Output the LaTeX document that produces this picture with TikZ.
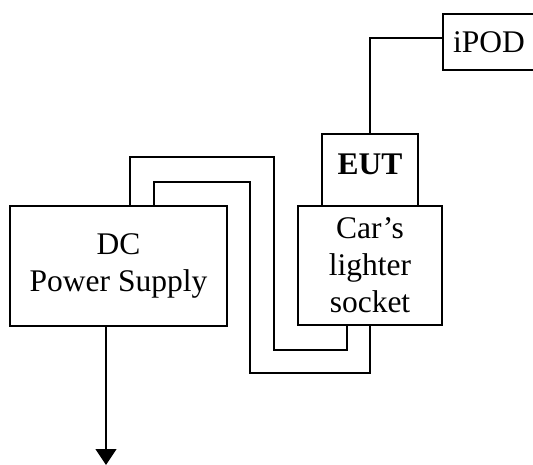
\documentclass[tikz,border=0pt]{standalone}
\usepackage{fontspec}
\setmainfont{Liberation Serif}
\usetikzlibrary{arrows.meta}

\begin{document}
\begin{tikzpicture}[x=1pt, y=-1pt, line width=1.2pt,
        box/.style={draw, inner sep=0pt, align=center,
            font=\fontsize{31.5}{37}\selectfont}]
            \useasboundingbox (0,0) rectangle (533,465);

            % Boxes
            \node[box, minimum width=217, minimum height=120] (dc) at (118.5,266) {DC\\Power Supply};
            \node[box, minimum width=144, minimum height=119] (sock) at (370,265.5) {Car’s\\lighter\\socket};
            \node[box, minimum width=96, minimum height=72, text depth=12pt] (eut) at (370,170) {\textbf{EUT}};
            \node[box, minimum width=92, minimum height=56] (ipod) at (489,42) {iPOD};
            \coordinate (out) at (106,465);

            % Wires
            \draw (dc.north -| 130,0) |- (274,157) |- (347,350) -- (sock.south -| 347,0);
            \draw (dc.north -| 154,0) |- (250,182) |- (370,373) -- (sock.south);
            \draw (eut.north) |- ([yshift=4pt]ipod.west);
            \draw[-{Triangle[width=21pt, length=16pt]}] (dc.south -| out) -- (out);

        \end{tikzpicture}
\end{document}
